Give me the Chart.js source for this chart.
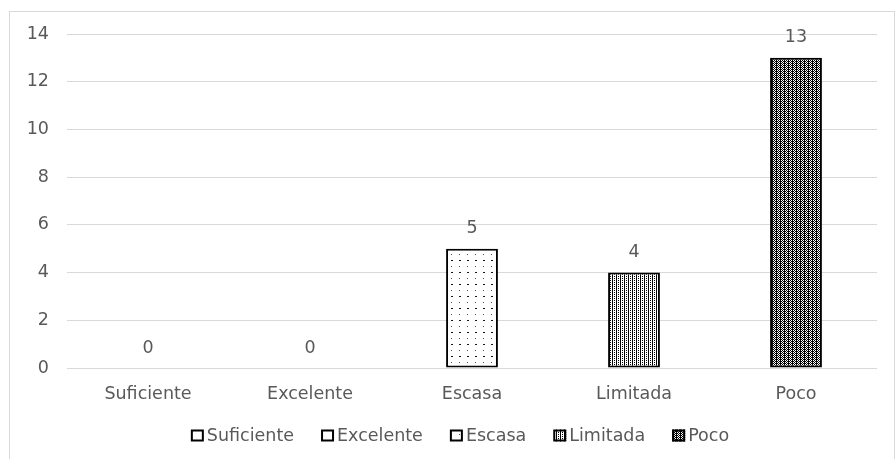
<!DOCTYPE html>
<html>
<head>
<meta charset="utf-8">
<script src="https://cdn.jsdelivr.net/npm/chart.js@4"></script>
<style>
  html, body { margin: 0; padding: 0; background: #ffffff; }
  #wrap { width: 896px; height: 459px; }
</style>
</head>
<body>
<div id="wrap"><canvas id="c" width="896" height="459"></canvas></div>
<script>
// Response counts per rating category
const categories = ['Suficiente', 'Excelente', 'Escasa', 'Limitada', 'Poco'];
const counts = [0, 0, 5, 4, 13];
const yTicks = [0, 2, 4, 6, 8, 10, 12, 14];
// Fill pattern used for each category's bar
const patternKinds = ['plain', 'plain', 'dots', 'vdash', 'checker'];

const TEXT = '#595959';
const GRID = '#d9d9d9';
const FONT = '"DejaVu Sans", "Open Sans", sans-serif';
const FONT_SIZE = 17.5;

function makePattern(kind) {
  const c = document.createElement('canvas');
  const g = c.getContext('2d');
  if (kind === 'dots') {
    c.width = 8; c.height = 12;
    g.fillStyle = '#fff'; g.fillRect(0, 0, 8, 12);
    g.fillStyle = '#555'; g.fillRect(3, 2, 1, 1);
    g.fillStyle = '#111'; g.fillRect(3, 8, 2, 1);
  } else if (kind === 'vdash') {
    c.width = 4; c.height = 4;
    g.fillStyle = '#fff'; g.fillRect(0, 0, 4, 4);
    g.fillStyle = '#000';
    g.fillRect(0, 0, 1, 4);
    g.fillRect(2, 0, 1, 1);
    g.fillRect(2, 2, 1, 1);
  } else if (kind === 'checker') {
    c.width = 4; c.height = 4;
    g.fillStyle = '#fff'; g.fillRect(0, 0, 4, 4);
    g.fillStyle = '#000';
    for (let y = 0; y < 4; y++) for (let x = 0; x < 4; x++) {
      if ((x + y) % 2 === 0 || x === 0) g.fillRect(x, y, 1, 1);
    }
  } else {
    return '#ffffff';
  }
  return g.createPattern(c, 'repeat');
}

const fills = patternKinds.map(makePattern);

// Light frame around the whole chart
const framePlugin = {
  id: 'frame',
  beforeDraw(chart) {
    const ctx = chart.ctx;
    ctx.save();
    ctx.fillStyle = '#ffffff';
    ctx.fillRect(0, 0, chart.width, chart.height);
    ctx.strokeStyle = GRID;
    ctx.lineWidth = 1;
    ctx.strokeRect(9.5, 11.5, 885, 470);
    ctx.restore();
  }
};

// Value labels above each bar
const valueLabels = {
  id: 'valueLabels',
  afterDatasetsDraw(chart) {
    const ctx = chart.ctx;
    const meta = chart.getDatasetMeta(0);
    ctx.save();
    ctx.font = FONT_SIZE + 'px ' + FONT;
    ctx.fillStyle = TEXT;
    ctx.textAlign = 'center';
    ctx.textBaseline = 'middle';
    meta.data.forEach((bar, i) => {
      ctx.fillText(String(counts[i]), bar.x, bar.y - 20);
    });
    ctx.restore();
  }
};

// Legend row: one swatch per category
const legendRow = {
  id: 'legendRow',
  afterDraw(chart) {
    const ctx = chart.ctx;
    const ds = chart.data.datasets[0];
    const box = 13, gap = 3, itemGap = 27, y = 436;
    ctx.save();
    ctx.font = FONT_SIZE + 'px ' + FONT;
    const widths = chart.data.labels.map(l => box + gap + ctx.measureText(l).width);
    const total = widths.reduce((a, b) => a + b, 0) + itemGap * (widths.length - 1);
    let x = 460 - total / 2;
    chart.data.labels.forEach((label, i) => {
      ctx.fillStyle = ds.backgroundColor[i];
      ctx.fillRect(x, y - box / 2, box, box - 1);
      ctx.strokeStyle = '#000';
      ctx.lineWidth = 2;
      ctx.strokeRect(x + 1, y - box / 2 + 1, box - 2, box - 3);
      ctx.fillStyle = TEXT;
      ctx.textAlign = 'left';
      ctx.textBaseline = 'middle';
      ctx.fillText(label, x + box + gap, y);
      x += widths[i] + itemGap;
    });
    ctx.restore();
  }
};

new Chart(document.getElementById('c'), {
  type: 'bar',
  data: {
    labels: categories,
    datasets: [{
      label: 'Respuestas',
      data: counts,
      backgroundColor: fills,
      borderColor: '#000000',
      borderWidth: 2,
      borderSkipped: false,
      barPercentage: 0.64,
      categoryPercentage: 0.5
    }]
  },
  options: {
    responsive: false,
    animation: false,
    layout: { padding: { left: 0, right: 19, top: 34, bottom: 41 } },
    plugins: {
      legend: { display: false },
      tooltip: { enabled: false }
    },
    scales: {
      x: {
        grid: { display: false, drawTicks: false },
        border: { display: false },
        ticks: { color: TEXT, font: { family: FONT, size: FONT_SIZE }, padding: 16, maxRotation: 0 },
        afterFit(scale) { scale.height = 50; }
      },
      y: {
        min: 0,
        max: 14,
        afterBuildTicks(scale) { scale.ticks = yTicks.map(v => ({ value: v })); },
        grid: { color: GRID, lineWidth: 1, drawTicks: false },
        border: { display: false },
        ticks: { color: TEXT, font: { family: FONT, size: FONT_SIZE }, padding: 18 },
        afterFit(scale) { scale.width = 67; }
      }
    }
  },
  plugins: [framePlugin, valueLabels, legendRow]
});
</script>
</body>
</html>
